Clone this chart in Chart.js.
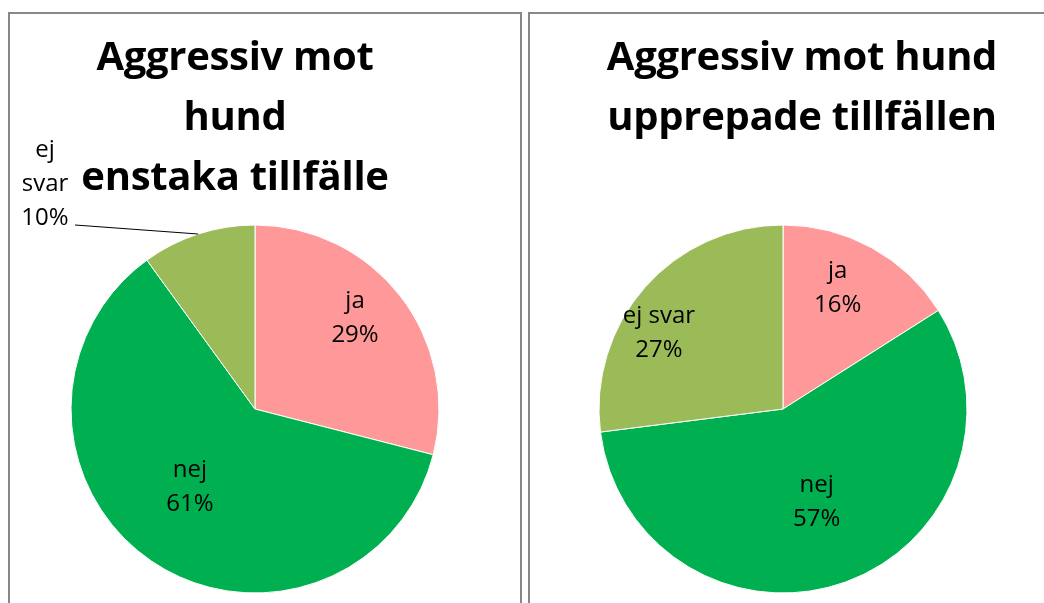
<!DOCTYPE html>
<html>
<head>
<meta charset="utf-8">
<script src="https://cdn.jsdelivr.net/npm/chart.js@4.4.1/dist/chart.umd.min.js"></script>
<style>
  html, body { margin: 0; padding: 0; background: #fff; overflow: hidden; }
  body { width: 1044px; height: 603px; position: relative; font-family: "Open Sans", Lato, sans-serif; }
  .panel { position: absolute; top: 12px; height: 640px; border: 2px solid #888; box-sizing: border-box; }
  #p1 { left: 8px; width: 514px; }
  #p2 { left: 528px; width: 530px; }
  canvas { position: absolute; }
  .title { position: absolute; top: 25px; font-weight: bold; font-size: 40px; line-height: 60px; text-align: center; color: #000; z-index: 2; white-space: nowrap; letter-spacing: -0.3px; }
</style>
</head>
<body>
<div class="panel" id="p1"></div>
<div class="panel" id="p2"></div>
<div class="title" id="t1" style="left:35px;width:400px;">Aggressiv mot<br>hund<br>enstaka tillfälle</div>
<div class="title" id="t2" style="left:552px;width:500px;">Aggressiv mot hund<br>upprepade tillfällen</div>
<canvas id="c1" width="509" height="600" style="left:10px;top:14px;"></canvas>
<canvas id="c2" width="514" height="600" style="left:530px;top:14px;"></canvas>
<script>
  "use strict";

  var categories = ["ja", "nej", "ej svar"];
  var enstaka = [29, 61, 10];
  var upprepade = [16, 57, 27];
  var colors = ["#FF9999", "#00B050", "#9BBB59"];

  // label placement per slice: [fraction of radius, angle nudge in degrees]
  var sliceLabels = {
    id: "sliceLabels",
    afterDatasetsDraw: function (chart, args, opts) {
      var ctx = chart.ctx;
      var meta = chart.getDatasetMeta(0);
      var values = chart.data.datasets[0].data;
      ctx.save();
      ctx.fillStyle = "#000";
      ctx.font = "24px 'Open Sans', Lato, sans-serif";
      ctx.textAlign = "center";
      ctx.textBaseline = "middle";
      meta.data.forEach(function (arc, i) {
        var p = arc.getProps(["x", "y", "startAngle", "endAngle", "outerRadius"], true);
        var mid = (p.startAngle + p.endAngle) / 2;
        var lines = opts.lines[i].concat([values[i] + "%"]);
        var cx, cy;
        if (opts.outside && opts.outside[i]) {
          var o = opts.outside[i];
          var ex = p.x + Math.cos(mid) * p.outerRadius;
          var ey = p.y + Math.sin(mid) * p.outerRadius;
          ctx.strokeStyle = "#000";
          ctx.lineWidth = 1;
          ctx.beginPath();
          ctx.moveTo(ex, ey);
          ctx.lineTo(p.x + o.lineTo[0], p.y + o.lineTo[1]);
          ctx.stroke();
          cx = p.x + o.text[0];
          cy = p.y + o.text[1];
        } else {
          var pos = opts.pos[i];
          var a = mid + pos[1] * Math.PI / 180;
          cx = p.x + Math.cos(a) * p.outerRadius * pos[0];
          cy = p.y + Math.sin(a) * p.outerRadius * pos[0];
        }
        var lh = 34;
        var y0 = cy - (lines.length - 1) * lh / 2;
        lines.forEach(function (t, k) {
          ctx.fillText(t, cx, y0 + k * lh);
        });
      });
      ctx.restore();
    }
  };

  function makePie(id, values, padding, labelOpts) {
    return new Chart(document.getElementById(id), {
      type: "pie",
      data: {
        labels: categories,
        datasets: [{
          data: values,
          backgroundColor: colors,
          borderColor: "#ffffff",
          borderWidth: 1,
          radius: 184
        }]
      },
      options: {
        responsive: false,
        animation: false,
        layout: { padding: padding },
        plugins: {
          legend: { display: false },
          title: { display: false },
          tooltip: { enabled: false },
          sliceLabels: labelOpts
        }
      },
      plugins: [sliceLabels]
    });
  }

  makePie("c1", enstaka, { left: 61, right: 80, top: 211, bottom: 21 }, {
    lines: [["ja"], ["nej"], ["ej", "svar"]],
    pos: [[0.735, -4.5], [0.552, 5.6], null],
    outside: [null, null, { text: [-210, -225], lineTo: [-180, -184] }]
  });

  makePie("c2", upprepade, { left: 69, right: 77, top: 211, bottom: 21 }, {
    lines: [["ja"], ["nej"], ["ej svar"]],
    pos: [[0.72, -4.4], [0.54, 0], [0.79, -10]]
  });
</script>
</body>
</html>
